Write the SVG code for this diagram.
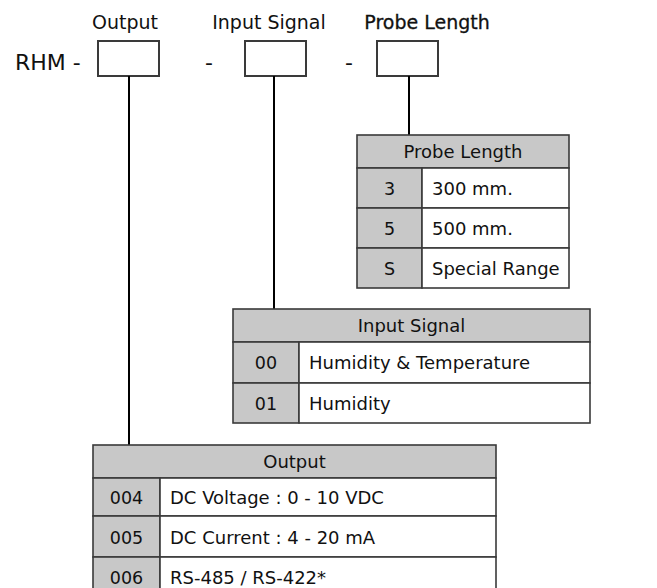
<svg xmlns="http://www.w3.org/2000/svg" width="657" height="588" viewBox="0 0 657 588">
<style>
text{font-family:"DejaVu Sans","Liberation Sans",sans-serif;fill:#111}
.lbl{font-size:19px}
.big{font-size:22px}
.hd{font-size:18px;text-anchor:middle}
.code{font-size:17.5px;text-anchor:middle}
.desc{font-size:18px}
.box{fill:#fff;stroke:#3a3a3a;stroke-width:2}
.g{fill:#c8c8c8;stroke:#3a3a3a;stroke-width:1.6}
.w{fill:#fff;stroke:#3a3a3a;stroke-width:1.6}
.con{stroke:#000;stroke-width:2;fill:none}
</style>
<rect width="657" height="588" fill="#fff"/>
<g id="code-line">
<text class="big" x="15" y="70">RHM -</text>
<text class="big" x="205" y="70">-</text>
<text class="big" x="345" y="70">-</text>
<text class="lbl" x="125" y="29" text-anchor="middle">Output</text>
<text class="lbl" x="269" y="29" text-anchor="middle">Input Signal</text>
<text class="lbl" x="427" y="29" text-anchor="middle" stroke="#111" stroke-width="0.3">Probe Length</text>
<rect class="box" x="98" y="41" width="61" height="35"/>
<rect class="box" x="245" y="41" width="61" height="35"/>
<rect class="box" x="377" y="41" width="61" height="35"/>
</g>
<g id="connectors">
<line class="con" x1="129" y1="76" x2="129" y2="445"/>
<line class="con" x1="274" y1="76" x2="274" y2="309"/>
<line class="con" x1="409" y1="76" x2="409" y2="135"/>
</g>
<g id="probe-table">
<rect class="g" x="357" y="135" width="212" height="33"/>
<rect class="g" x="357" y="168" width="65" height="40"/>
<rect class="w" x="422" y="168" width="147" height="40"/>
<rect class="g" x="357" y="208" width="65" height="40"/>
<rect class="w" x="422" y="208" width="147" height="40"/>
<rect class="g" x="357" y="248" width="65" height="40"/>
<rect class="w" x="422" y="248" width="147" height="40"/>
<text class="hd" x="463" y="158">Probe Length</text>
<text class="code" x="389.5" y="194.5">3</text>
<text class="desc" x="432" y="194.5">300 mm.</text>
<text class="code" x="389.5" y="234.5">5</text>
<text class="desc" x="432" y="234.5">500 mm.</text>
<text class="code" x="389.5" y="274.5">S</text>
<text class="desc" x="432" y="274.5">Special Range</text>
</g>
<g id="input-table">
<rect class="g" x="233" y="309" width="357" height="33"/>
<rect class="g" x="233" y="342" width="66" height="41"/>
<rect class="w" x="299" y="342" width="291" height="41"/>
<rect class="g" x="233" y="383" width="66" height="40"/>
<rect class="w" x="299" y="383" width="291" height="40"/>
<text class="hd" x="411.5" y="332">Input Signal</text>
<text class="code" x="266" y="369">00</text>
<text class="desc" x="309" y="369">Humidity &amp; Temperature</text>
<text class="code" x="266" y="409.5">01</text>
<text class="desc" x="309" y="409.5">Humidity</text>
</g>
<g id="output-table">
<rect class="g" x="93" y="445" width="403" height="33"/>
<rect class="g" x="93" y="478" width="67" height="38"/>
<rect class="w" x="160" y="478" width="336" height="38"/>
<rect class="g" x="93" y="516" width="67" height="41"/>
<rect class="w" x="160" y="516" width="336" height="41"/>
<rect class="g" x="93" y="557" width="67" height="40"/>
<rect class="w" x="160" y="557" width="336" height="40"/>
<text class="hd" x="294.5" y="468">Output</text>
<text class="code" x="126.5" y="503.5">004</text>
<text class="desc" x="170" y="503.5">DC Voltage : 0 - 10 VDC</text>
<text class="code" x="126.5" y="543.5">005</text>
<text class="desc" x="170" y="543.5">DC Current : 4 - 20 mA</text>
<text class="code" x="126.5" y="583.5">006</text>
<text class="desc" x="170" y="583.5">RS-485 / RS-422*</text>
</g>
</svg>
